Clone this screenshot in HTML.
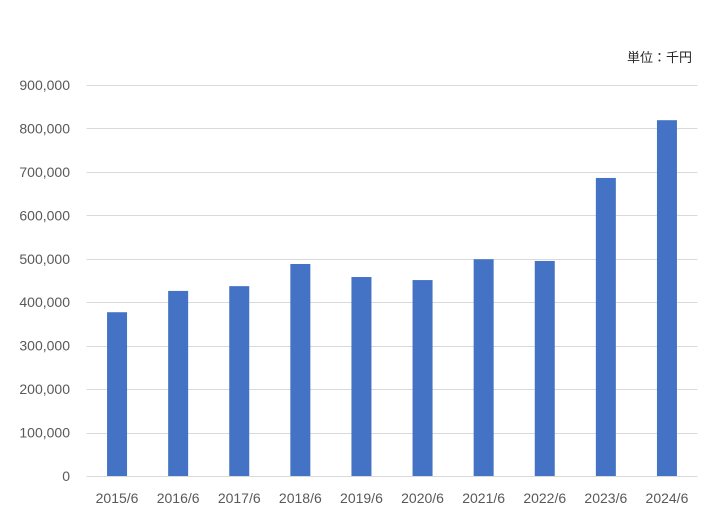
<!DOCTYPE html>
<html><head><meta charset="utf-8"><style>
body{margin:0;background:#fff;}
svg text{font-family:"Liberation Sans","Noto Sans CJK JP",sans-serif;fill:#595959;font-size:14px;}
</style></head><body>
<svg width="713" height="519" id="chart">
<text x="692" y="62" text-anchor="end" style="fill:#262626;font-size:13px">単位：千円</text>
<g id="grid"></g><g id="bars"></g><g id="labels"></g>
</svg>
<script>
const categories=["2015/6","2016/6","2017/6","2018/6","2019/6","2020/6","2021/6","2022/6","2023/6","2024/6"];
const values=[377000,426000,437000,488000,458000,451000,499000,495000,686000,819000];
const ticks=[0,100000,200000,300000,400000,500000,600000,700000,800000,900000];
const ns="http://www.w3.org/2000/svg";
const x0=86.5,x1=697.5,y0=476,yTop=85,maxV=900000;
const y=v=>y0-(v/maxV)*(y0-yTop);
const band=(x1-x0)/categories.length;
const xc=i=>x0+band*(i+0.5);
const grid=document.getElementById('grid'),bars=document.getElementById('bars'),labels=document.getElementById('labels');
ticks.forEach(t=>{
 const l=document.createElementNS(ns,'line');
 l.setAttribute('x1',x0);l.setAttribute('x2',x1);l.setAttribute('y1',Math.round(y(t))+0.5);l.setAttribute('y2',Math.round(y(t))+0.5);
 l.setAttribute('stroke','#d9d9d9');l.setAttribute('stroke-width','1');
 
 
 grid.appendChild(l);
 const tx=document.createElementNS(ns,'text');
 tx.setAttribute('x',70);tx.setAttribute('y',y(t)+5);tx.setAttribute('text-anchor','end');
 tx.textContent=t.toLocaleString('en-US');
 
 
 labels.appendChild(tx);
});
values.forEach((v,i)=>{
 const r=document.createElementNS(ns,'rect');
 const w=20;
 r.setAttribute('x',xc(i)-w/2);r.setAttribute('width',w);
 r.setAttribute('y',y(v));r.setAttribute('height',y0-y(v));
 r.setAttribute('fill','#4472c4');
 
 
 bars.appendChild(r);
 const tx=document.createElementNS(ns,'text');
 tx.setAttribute('x',xc(i));tx.setAttribute('y',503);tx.setAttribute('text-anchor','middle');
 tx.textContent=categories[i];
 
 
 labels.appendChild(tx);
});
</script>
</body></html>
